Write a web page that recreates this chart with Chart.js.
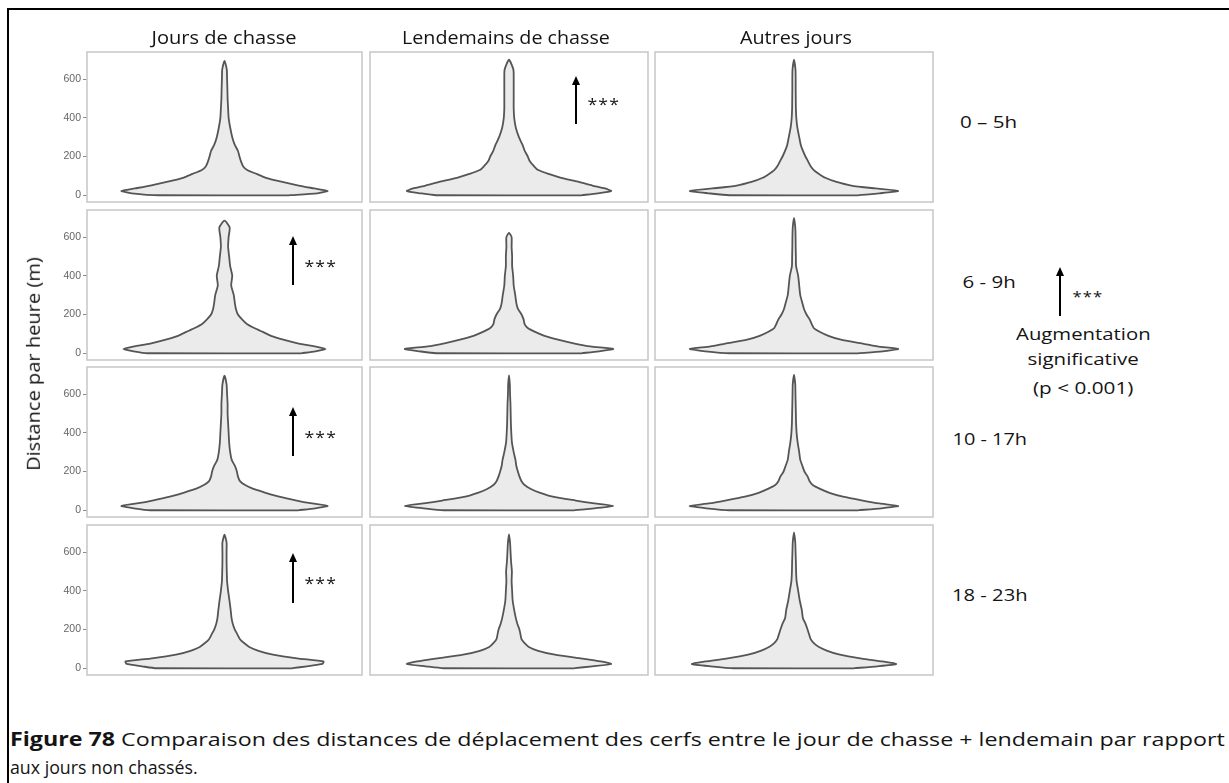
<!DOCTYPE html>
<html><head><meta charset="utf-8">
<script src="https://cdn.jsdelivr.net/npm/chart.js@4/dist/chart.umd.min.js"></script>
<style>
html,body{margin:0;padding:0}
body{width:1229px;height:783px;background:#fff;position:relative;overflow:hidden;font-family:'Open Sans',sans-serif}
#frame{position:absolute;left:7px;top:8px;width:1400px;height:1000px;border-left:2.5px solid #000;border-top:2.5px solid #000;box-sizing:border-box}
canvas{position:absolute}
.txt{position:absolute;white-space:nowrap;color:#141414;line-height:1}
.blk{position:absolute;background:#000}
</style></head>
<body>
<div id="frame"></div>
<script>
// ---------------- data ----------------
const columns = ['Jours de chasse', 'Lendemains de chasse', 'Autres jours'];
const hourBands = ['0 – 5h', '6 - 9h', '10 - 17h', '18 - 23h'];
const yTicks = [0, 200, 400, 600];
const yTitle = 'Distance par heure (m)';
// distance values (m) at which the violin half-widths are read
const densityGrid = [0,10,22,35,50,70,90,110,130,150,175,200,230,260,300,350,400,450,500,550,600,650];
// relative half-widths of each violin (1 = widest point)
const chasse_0_5h      = [0.63,0.90,1.00,0.87,0.72,0.55,0.40,0.31,0.22,0.18,0.16,0.145,0.13,0.10,0.075,0.055,0.04,0.035,0.03,0.028,0.025,0.022];
const lendemain_0_5h   = [0.70,0.85,0.98,0.92,0.80,0.66,0.50,0.38,0.28,0.24,0.20,0.18,0.15,0.13,0.095,0.065,0.05,0.045,0.045,0.045,0.045,0.042];
const autres_0_5h      = [0.62,0.82,1.00,0.78,0.55,0.40,0.30,0.24,0.19,0.16,0.135,0.11,0.085,0.065,0.05,0.032,0.022,0.018,0.017,0.016,0.016,0.014];
const chasse_6_9h      = [0.75,0.88,0.98,0.88,0.72,0.57,0.45,0.37,0.29,0.22,0.17,0.13,0.11,0.10,0.09,0.065,0.075,0.055,0.045,0.035,0.04,0.05];
const lendemain_6_9h   = [0.70,0.86,1.00,0.78,0.63,0.47,0.34,0.25,0.18,0.15,0.14,0.12,0.085,0.07,0.06,0.045,0.04,0.03,0.03,0.025,0.025,null];
const autres_6_9h      = [0.62,0.85,1.00,0.80,0.66,0.45,0.33,0.25,0.19,0.17,0.15,0.12,0.095,0.08,0.06,0.05,0.04,0.02,0.018,0.016,0.015,0.012];
const chasse_10_17h    = [0.72,0.88,1.00,0.85,0.70,0.53,0.40,0.28,0.20,0.15,0.13,0.12,0.10,0.07,0.055,0.045,0.04,0.035,0.03,0.03,0.025,0.02];
const lendemain_10_17h = [0.63,0.82,1.00,0.82,0.64,0.42,0.30,0.21,0.15,0.12,0.10,0.085,0.07,0.062,0.045,0.028,0.022,0.018,0.016,0.014,0.01,0.008];
const autres_10_17h    = [0.62,0.84,1.00,0.82,0.66,0.47,0.34,0.25,0.18,0.15,0.13,0.10,0.08,0.06,0.05,0.035,0.025,0.02,0.018,0.016,0.014,0.012];
const chasse_18_23h    = [0.66,0.80,0.95,0.96,0.72,0.47,0.33,0.24,0.19,0.15,0.125,0.10,0.08,0.068,0.06,0.048,0.035,0.025,0.022,0.02,0.02,0.02];
const lendemain_18_23h = [0.63,0.80,0.98,0.88,0.70,0.44,0.28,0.19,0.15,0.12,0.11,0.10,0.08,0.065,0.05,0.035,0.03,0.025,0.028,0.02,0.015,0.01];
const autres_18_23h    = [0.58,0.80,0.98,0.85,0.65,0.44,0.32,0.24,0.19,0.16,0.145,0.13,0.11,0.085,0.075,0.055,0.04,0.025,0.02,0.018,0.015,0.012];
// maximum distance (top of each violin), rows = hour bands, cols = day types
const maxDistance = [[694,700,700],[685,622,699],[695,696,700],[690,692,702]];
// significant increase (p < 0.001)
const significant = [[false,true,false],[true,false,false],[true,false,false],[true,false,false]];
const widths = [
  [chasse_0_5h, lendemain_0_5h, autres_0_5h],
  [chasse_6_9h, lendemain_6_9h, autres_6_9h],
  [chasse_10_17h, lendemain_10_17h, autres_10_17h],
  [chasse_18_23h, lendemain_18_23h, autres_18_23h]
];

// ---------------- layout ----------------
const panelX = [87, 370, 655], panelW = [275, 278, 278];
const panelY = [52, 210, 367, 525], panelH = 150;
const AXW = 47;
const arrowLayout = {0:{dx:206,t:24,b:72,s:49}, 1:{dx:206,t:26,b:75,s:53}, 2:{dx:206,t:40,b:89,s:67}, 3:{dx:206,t:28,b:78,s:55}};

const panelFrame = {
  id:'panelFrame',
  afterDraw(chart){
    const {ctx, chartArea:a} = chart;
    ctx.save(); ctx.strokeStyle = '#c6c6c6'; ctx.lineWidth = 1.5;
    ctx.strokeRect(a.left, a.top, a.right - a.left, a.bottom - a.top);
    ctx.restore();
  }
};

function violinPoints(w, top){
  const right = [], left = [];
  densityGrid.forEach((y, i) => {
    if (y < top && w[i] != null) {
      right.push({x: 1 + 0.45 * w[i], y});
      left.unshift({x: 1 - 0.45 * w[i], y});
    }
  });
  return [...right, {x:1, y:top}, ...left, right[0]];
}

for (let r = 0; r < 4; r++) {
  for (let c = 0; c < 3; c++) {
    const cv = document.createElement('canvas');
    const leftExtra = c === 0 ? AXW : 2;
    const W = panelW[c] + leftExtra + 2, H = panelH + 20;
    cv.width = W; cv.height = H;
    cv.style.width = W + 'px'; cv.style.height = H + 'px';
    cv.style.left = (panelX[c] - leftExtra) + 'px';
    cv.style.top = (panelY[r] - 10) + 'px';
    document.body.appendChild(cv);
    const yScale = {
      type:'linear', min:-35, max:740, display: c === 0,
      afterBuildTicks: s => { s.ticks = yTicks.map(v => ({value:v})); },
      grid: { drawOnChartArea:false, tickLength:4, color:'#8a8a8a', lineWidth:1 },
      border: { display:false },
      ticks: { color:'#666666', padding:2, font:{ family:'Liberation Sans', size:10.5 } }
    };
    if (c === 0) yScale.afterFit = s => { s.width = AXW; };
    new Chart(cv, {
      type: 'scatter',
      data: { datasets: [{
        data: violinPoints(widths[r][c], maxDistance[r][c]),
        showLine: true, fill: 'shape', tension: 0.2,
        backgroundColor: '#ebebeb', borderColor: '#555555', borderWidth: 1.8,
        pointRadius: 0
      }]},
      options: {
        responsive: false, animation: false, devicePixelRatio: 1, events: [],
        layout: { padding: { top: 10, bottom: 10, left: c === 0 ? 0 : 2, right: 2 } },
        plugins: { legend: {display:false}, tooltip: {enabled:false} },
        scales: {
          x: { type:'linear', min:0.4, max:1.6, display:false },
          y: yScale
        }
      },
      plugins: [panelFrame]
    });
  }
}

// ---------------- text & annotations ----------------
function addText(html, x, y, size, targetW, opts = {}) {
  const el = document.createElement('div');
  el.className = 'txt'; el.innerHTML = html; el.style.fontSize = size + 'px';
  if (opts.weight) el.style.fontWeight = opts.weight;
  if (opts.ls) el.style.letterSpacing = opts.ls + 'px';
  document.body.appendChild(el);
  const w0 = el.offsetWidth, h0 = el.offsetHeight;
  const k = targetW ? targetW / w0 : 1;
  if (opts.align === 'left') {
    el.style.left = x + 'px'; el.style.top = (y - h0/2) + 'px';
    el.style.transformOrigin = '0 50%';
    el.style.transform = `scaleX(${k})`;
  } else {
    el.style.left = (x - w0/2) + 'px'; el.style.top = (y - h0/2) + 'px';
    el.style.transformOrigin = '50% 50%';
    el.style.transform = (opts.rot ? `rotate(${opts.rot}deg) ` : '') + `scaleX(${k})`;
  }
  return el;
}
function arrow(x, y1, y2) {
  const s = document.createElement('div'); s.className = 'blk';
  s.style.left = (x - 1.25) + 'px'; s.style.top = (y1 + 7) + 'px';
  s.style.width = '2.5px'; s.style.height = (y2 - y1 - 7) + 'px';
  document.body.appendChild(s);
  const h = document.createElement('div');
  h.style.cssText = `position:absolute;left:${x-4}px;top:${y1}px;width:0;height:0;border-left:4px solid transparent;border-right:4px solid transparent;border-bottom:9px solid #000`;
  document.body.appendChild(h);
}

// column titles
const colCenters = [[224,145],[506,208],[796,112]];
columns.forEach((t, i) => addText(t, colCenters[i][0], 37, 18, colCenters[i][1]));
// row labels
const rowLab = [[988,121,57],[989,281,53],[990,438,75],[990,594,76]];
hourBands.forEach((t, i) => addText(t, rowLab[i][0], rowLab[i][1], 17, rowLab[i][2]));
// y title
addText(yTitle, 33, 364, 18, 214, {rot:-90});

// significance arrows in panels
for (let r = 0; r < 4; r++) for (let c = 0; c < 3; c++) {
  if (!significant[r][c]) continue;
  const L = arrowLayout[r], x0 = panelX[c];
  arrow(x0 + L.dx, panelY[r] + L.t, panelY[r] + L.b);
  addText('***', x0 + L.dx + 27, panelY[r] + L.s + 3, 16, 32, {ls:1});
}
// legend
arrow(1060, 267, 316);
addText('***', 1088, 296, 15, 31, {ls:1});
addText('Augmentation', 1083, 333, 17, 135);
addText('significative', 1083, 358, 17, 111);
addText('(p &lt; 0.001)', 1083, 387, 17, 100);

// caption
addText('<b>Figure 78</b> Comparaison des distances de déplacement des cerfs entre le jour de chasse + lendemain par rapport', 10, 739, 19, 1215, {align:'left'});
addText('aux jours non chassés.', 10, 767, 19, 188, {align:'left'});
</script>
</body></html>
